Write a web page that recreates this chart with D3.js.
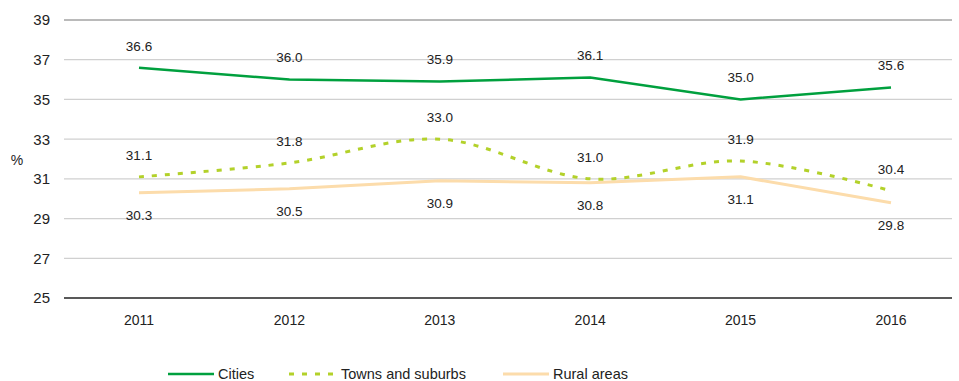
<!DOCTYPE html>
<meta charset="utf-8">
<style>
    body { margin: 0; background: #fff; }
    svg text { font-family: "Liberation Sans", Arial, sans-serif; fill: #222; }
</style>
<div id="chart"></div>
<script src="https://d3js.org/d3.v7.min.js"></script>
<script>

    // data
    var years = ["2011", "2012", "2013", "2014", "2015", "2016"];
    var cities = [36.6, 36.0, 35.9, 36.1, 35.0, 35.6];
    var towns = [31.1, 31.8, 33.0, 31.0, 31.9, 30.4];
    var rural = [30.3, 30.5, 30.9, 30.8, 31.1, 29.8];
    var yTicks = [25, 27, 29, 31, 33, 35, 37, 39];
    var seriesNames = ["Cities", "Towns and suburbs", "Rural areas"];

    var width = 959, height = 381;
    var plotLeft = 64, plotRight = 952, plotTop = 20, plotBottom = 298;

    var svg = d3.select("#chart")
        .append("svg")
        .attr("width", width)
        .attr("height", height);

    var x = d3.scalePoint()
        .domain(years)
        .range([139, 891]);

    var y = d3.scaleLinear()
        .domain([25, 39])
        .range([plotBottom, plotTop]);

    // gridlines
    svg.append("g")
        .selectAll("line")
        .data(yTicks)
        .enter()
        .append("line")
        .attr("x1", plotLeft)
        .attr("x2", plotRight)
        .attr("y1", function (d) { return y(d); })
        .attr("y2", function (d) { return y(d); })
        .attr("stroke", function (d) { return d == 25 ? "#222" : (d == 39 ? "#777" : "#d0d0d0"); })
        .attr("stroke-width", function (d) { return d == 25 ? 1.5 : 1.2; });

    // y axis labels
    svg.append("g")
        .selectAll("text")
        .data(yTicks)
        .enter()
        .append("text")
        .attr("x", 50)
        .attr("y", function (d) { return y(d); })
        .attr("dy", "0.36em")
        .attr("text-anchor", "end")
        .style("font-size", "15px")
        .text(function (d) { return d; });

    svg.append("text")
        .attr("x", 17)
        .attr("y", 160)
        .attr("dy", "0.36em")
        .attr("text-anchor", "middle")
        .style("font-size", "14px")
        .text("%");

    // x axis labels
    svg.append("g")
        .selectAll("text")
        .data(years)
        .enter()
        .append("text")
        .attr("x", function (d) { return x(d); })
        .attr("y", 320)
        .attr("dy", "0.36em")
        .attr("text-anchor", "middle")
        .style("font-size", "14px")
        .text(function (d) { return d; });

    var series = [
        { name: seriesNames[0], values: cities, color: "#00a03e", width: 2.5, dash: null, curve: d3.curveLinear, labelDy: -22 },
        { name: seriesNames[1], values: towns, color: "#b3d12a", width: 3, dash: "5,8", curve: d3.curveCatmullRom.alpha(0.5), labelDy: -22 },
        { name: seriesNames[2], values: rural, color: "#fcdcab", width: 3, dash: null, curve: d3.curveLinear, labelDy: 22 }
    ];

    series.slice().reverse().forEach(function (s) {
        var line = d3.line()
            .x(function (d, i) { return x(years[i]); })
            .y(function (d) { return y(d); })
            .curve(s.curve);

        svg.append("path")
            .datum(s.values)
            .attr("d", line)
            .attr("fill", "none")
            .attr("stroke", s.color)
            .attr("stroke-width", s.width)
            .attr("stroke-dasharray", s.dash);
    });

    // value labels
    series.forEach(function (s) {
        svg.append("g")
            .selectAll("text")
            .data(s.values)
            .enter()
            .append("text")
            .attr("x", function (d, i) { return x(years[i]); })
            .attr("y", function (d) { return y(d) + s.labelDy; })
            .attr("dy", "0.36em")
            .attr("text-anchor", "middle")
            .style("font-size", "13.5px")
            .text(function (d) { return d.toFixed(1); });
    });

    // legend
    var legendX = [168, 289, 503];
    var legend = svg.append("g")
        .selectAll("g")
        .data(series)
        .enter()
        .append("g")
        .attr("transform", function (d, i) { return "translate(" + legendX[i] + ",374)"; });

    legend.append("line")
        .attr("x1", 0)
        .attr("x2", function (d, i) { return i == 1 ? 46 : 46; })
        .attr("stroke", function (d) { return d.color; })
        .attr("stroke-width", function (d) { return d.width; })
        .attr("stroke-dasharray", function (d) { return d.dash ? "5,8" : null; });

    legend.append("text")
        .attr("x", function (d, i) { return i == 1 ? 52 : 50; })
        .attr("dy", "0.36em")
        .style("font-size", "14.5px")
        .text(function (d) { return d.name; });

</script>
